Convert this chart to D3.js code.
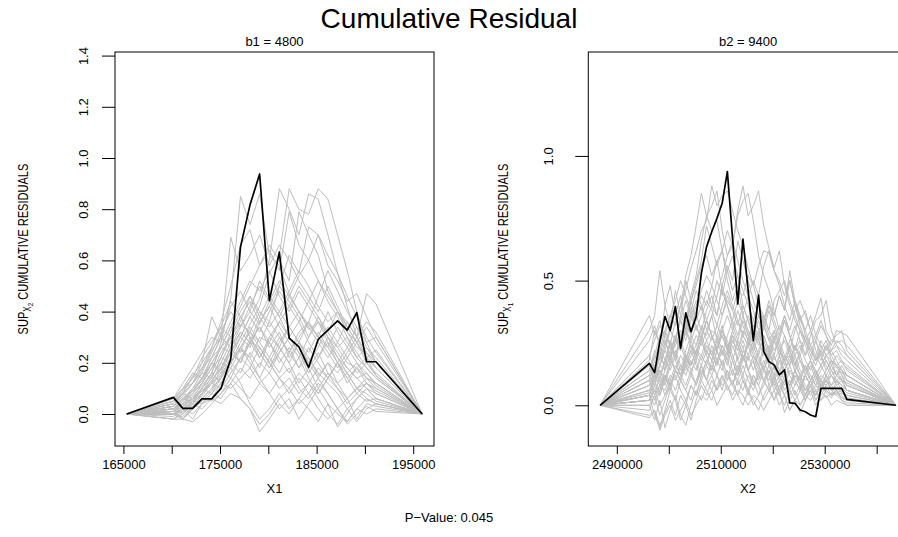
<!DOCTYPE html>
<html>
<head>
<meta charset="utf-8">
<script src="https://cdn.jsdelivr.net/npm/d3@7/dist/d3.min.js"></script>
<style>
  body { margin: 0; background: #fff; }
  svg { display: block; font-family: "Liberation Sans", Arial, Helvetica, sans-serif; }
</style>
</head>
<body>
<div id="chart"></div>
<script>
// ---- data ----
const x1Values = [165350, 170170, 171150, 172170, 173130, 174140, 175100, 176110, 177120, 178100, 179100,
  180110, 181140, 182160, 183170, 184170, 185170, 186170, 187170, 188170, 189160, 190170, 191150, 195930];

const observed1 = [0, 0.065, 0.022, 0.022, 0.059, 0.059, 0.1, 0.215, 0.653, 0.816, 0.9375,
  0.443, 0.632, 0.296, 0.262, 0.182, 0.292, 0.328, 0.364, 0.328, 0.396, 0.204, 0.204, 0];

const simulated1 = [
  [0, 0.03,0.06,0.05,0.10,0.16,0.28,0.45,0.85,0.74,0.86, 0.62,0.58,0.47,0.40,0.33,0.36,0.28,0.22,0.18,0.14, 0.10,0.06, 0],
  [0, 0.00,0.02,0.04,0.08,0.12,0.15,0.22,0.30,0.38,0.45, 0.60,0.88,0.80,0.70,0.86,0.84,0.70,0.55,0.42,0.30, 0.22,0.15, 0],
  [0, 0.01,-0.02,0.03,0.06,0.10,0.14,0.20,0.28,0.35,0.42, 0.55,0.62,0.88,0.80,0.78,0.88,0.84,0.70,0.56,0.40, 0.28,0.20, 0],
  [0, 0.05,0.10,0.12,0.20,0.26,0.36,0.50,0.66,0.72,0.58, 0.66,0.60,0.52,0.79,0.70,0.62,0.48,0.40,0.32,0.28, 0.22,0.18, 0],
  [0, -0.02,-0.02,0.02,0.08,0.15,0.20,0.28,0.35,0.32,0.40, 0.36,0.50,0.62,0.55,0.73,0.70,0.58,0.52,0.44,0.47, 0.38,0.30, 0],
  [0, 0.04,0.08,0.15,0.20,0.38,0.30,0.42,0.48,0.40,0.52, 0.45,0.38,0.46,0.40,0.35,0.30,0.26,0.20,0.16,0.10, 0.08,0.05, 0],
  [0, 0.00,0.02,-0.02,0.04,0.06,0.12,0.18,0.25,0.22,0.30, 0.28,0.36,0.42,0.50,0.44,0.52,0.46,0.40,0.36,0.30, 0.47,0.43, 0],
  [0, 0.02,0.06,0.10,0.14,0.20,0.26,0.30,0.38,0.30,0.22, 0.28,0.20,0.26,0.18,0.22,0.15,0.20,0.12,0.16,0.10, 0.12,0.08, 0],
  [0, -0.02,0.00,0.04,0.02,0.06,0.04,0.08,0.06,0.02,-0.07, -0.02,0.04,0.00,0.06,0.02,-0.03,0.04,0.00,-0.03,0.02, 0.00,0.02, 0],
  [0, 0.01,0.03,0.06,0.10,0.08,0.14,0.20,0.16,0.24,0.18, 0.30,0.26,0.34,0.28,0.24,0.32,0.26,0.34,0.28,0.22, 0.26,0.20, 0],
  [0, 0.03,0.08,0.12,0.18,0.22,0.30,0.26,0.34,0.40,0.35, 0.44,0.38,0.30,0.36,0.28,0.22,0.30,0.24,0.18,0.14, 0.16,0.12, 0],
  [0, 0.00,-0.01,0.03,0.07,0.12,0.10,0.16,0.22,0.28,0.26, 0.20,0.14,0.18,0.10,0.06,0.12,0.08,0.02,0.06,-0.02, 0.04,0.03, 0],
  [0, 0.06,0.12,0.18,0.24,0.30,0.28,0.36,0.44,0.52,0.48, 0.56,0.46,0.40,0.48,0.42,0.36,0.32,0.26,0.30,0.24, 0.18,0.14, 0],
  [0, 0.02,0.04,0.02,0.06,0.10,0.18,0.26,0.20,0.28,0.34, 0.26,0.32,0.22,0.28,0.20,0.26,0.34,0.28,0.36,0.30, 0.24,0.18, 0],
  [0, 0.00,0.02,0.05,0.04,0.08,0.12,0.10,0.14,0.18,0.12, 0.16,0.10,0.14,0.08,0.12,0.18,0.14,0.10,0.06,0.10, 0.06,0.04, 0],
  [0, 0.04,0.08,0.06,0.12,0.20,0.16,0.24,0.30,0.26,0.36, 0.42,0.34,0.28,0.22,0.30,0.38,0.32,0.40,0.34,0.28, 0.22,0.25, 0],
  [0, 0.01,0.05,0.10,0.16,0.14,0.22,0.32,0.40,0.46,0.38, 0.32,0.26,0.20,0.28,0.22,0.16,0.12,0.08,0.02,-0.03, 0.02,0.04, 0],
  [0, -0.01,0.02,0.00,0.04,0.08,0.06,0.12,0.18,0.14,0.20, 0.16,0.24,0.30,0.24,0.18,0.10,0.04,-0.05,0.00,0.06, 0.10,0.08, 0],
  [0, 0.03,0.07,0.12,0.16,0.24,0.32,0.40,0.34,0.42,0.50, 0.44,0.52,0.46,0.54,0.60,0.52,0.44,0.38,0.30,0.22, 0.18,0.14, 0],
  [0, 0.02,0.04,0.08,0.12,0.18,0.22,0.20,0.26,0.32,0.28, 0.36,0.30,0.24,0.32,0.36,0.30,0.40,0.32,0.26,0.34, 0.28,0.30, 0],
  [0, 0.00,0.01,0.03,0.06,0.05,0.08,0.14,0.10,0.06,0.12, 0.08,0.14,0.10,0.16,0.12,0.08,0.14,0.20,0.14,0.08, 0.12,0.10, 0],
  [0, 0.05,0.10,0.16,0.14,0.22,0.26,0.34,0.30,0.38,0.32, 0.40,0.48,0.42,0.36,0.44,0.38,0.30,0.26,0.20,0.18, 0.14,0.10, 0],
  [0, 0.01,0.03,0.07,0.11,0.16,0.24,0.30,0.36,0.46,0.40, 0.34,0.40,0.34,0.28,0.36,0.46,0.56,0.48,0.40,0.34, 0.26,0.22, 0],
  [0, 0.02,-0.02,0.02,0.05,0.09,0.15,0.20,0.26,0.22,0.14, 0.08,0.02,0.06,-0.02,0.04,0.10,0.16,0.12,0.06,0.10, 0.14,0.12, 0],
  [0, 0.03,0.06,0.09,0.13,0.20,0.17,0.26,0.32,0.28,0.22, 0.30,0.36,0.30,0.24,0.16,0.22,0.28,0.20,0.14,0.18, 0.12,0.09, 0],
  [0, 0.00,0.03,0.06,0.09,0.13,0.18,0.24,0.20,0.30,0.24, 0.18,0.24,0.30,0.26,0.20,0.14,0.20,0.16,0.22,0.28, 0.34,0.28, 0],
  [0, 0.02,0.05,0.09,0.14,0.22,0.30,0.69,0.56,0.62,0.70, 0.58,0.66,0.60,0.52,0.46,0.40,0.50,0.42,0.34,0.28, 0.20,0.16, 0],
  [0, 0.01,0.04,0.08,0.12,0.18,0.26,0.34,0.42,0.50,0.58, 0.64,0.56,0.79,0.66,0.60,0.70,0.62,0.55,0.46,0.38, 0.30,0.24, 0],
  [0, 0.00,-0.02,-0.03,0.00,0.04,0.08,0.12,0.06,0.02,-0.04, 0.00,0.06,0.10,0.04,0.08,0.02,-0.02,0.02,-0.04,0.00, 0.03,0.01, 0],
  [0, 0.06,0.10,0.14,0.22,0.28,0.34,0.44,0.38,0.30,0.24, 0.18,0.26,0.20,0.12,0.18,0.24,0.16,0.10,0.04,0.08, 0.05,0.06, 0],
  [0, 0.02,0.06,0.04,0.10,0.14,0.22,0.30,0.24,0.34,0.28, 0.22,0.16,0.24,0.30,0.36,0.30,0.24,0.18,0.24,0.30, 0.36,0.32, 0],
  [0, -0.02,0.01,0.05,0.08,0.12,0.20,0.18,0.12,0.04,-0.02, 0.02,0.08,0.02,0.06,0.12,0.06,0.00,-0.04,0.02,0.06, 0.10,0.06, 0],
  [0, 0.04,0.09,0.14,0.18,0.26,0.34,0.30,0.38,0.44,0.36, 0.42,0.50,0.44,0.38,0.30,0.36,0.30,0.22,0.16,0.20, 0.16,0.11, 0],
  [0, 0.01,0.04,0.06,0.10,0.16,0.12,0.20,0.26,0.32,0.26, 0.20,0.28,0.34,0.40,0.34,0.28,0.22,0.28,0.22,0.16, 0.20,0.15, 0],
  [0, 0.03,0.00,0.04,0.08,0.13,0.18,0.14,0.22,0.18,0.26, 0.20,0.14,0.08,0.14,0.08,0.14,0.08,0.02,-0.03,0.02, 0.06,0.04, 0],
  [0, 0.02,0.05,0.08,0.14,0.20,0.26,0.24,0.32,0.28,0.38, 0.46,0.40,0.48,0.56,0.50,0.42,0.36,0.40,0.32,0.26, 0.24,0.20, 0],
  [0, 0.00,0.02,0.06,0.09,0.12,0.16,0.20,0.26,0.20,0.14, 0.22,0.30,0.24,0.18,0.26,0.20,0.14,0.20,0.26,0.20, 0.14,0.12, 0],
  [0, 0.05,0.08,0.12,0.17,0.25,0.30,0.26,0.20,0.28,0.34, 0.28,0.22,0.16,0.22,0.14,0.08,0.14,0.20,0.12,0.18, 0.22,0.18, 0]
];

const x2Values = [2486790,
  2496270, 2497270, 2498270, 2499270, 2500270, 2501270, 2502270, 2503270, 2504270, 2505270,
  2506270, 2507270, 2508270, 2509270, 2510270, 2511270, 2512270, 2513270, 2514270, 2515270,
  2516270, 2517270, 2518270, 2519270, 2520270, 2521270, 2522270, 2523270, 2524270, 2525270,
  2526270, 2527270, 2528270, 2529270, 2530270, 2531270, 2532270, 2533270, 2534270,
  2543710];

const observed2 = [0,
  0.168,0.131,0.255,0.356,0.300,0.396,0.229,0.371,0.295,0.356,
  0.53,0.636,0.696,0.75,0.81,0.937,0.67,0.406,0.666,0.46,
  0.259,0.442,0.215,0.175,0.162,0.122,0.142,0.01,0.008,-0.019,
  -0.026,-0.039,-0.046,0.068,0.068,0.068,0.068,0.068,0.024,
  0];

const simulated2 = [
  [0, 0.10,0.18,0.26,0.30,0.36,0.32,0.40,0.46,0.55,0.62, 0.70,0.74,0.88,0.80,0.84,0.86,0.78,0.70,0.64,0.55, 0.48,0.40,0.36,0.30,0.26,0.22,0.18,0.20,0.16,0.12, 0.14,0.10,0.12,0.08,0.10,0.06,0.08,0.05,0.04, 0],
  [0, 0.05,0.12,0.20,0.28,0.24,0.34,0.40,0.52,0.60,0.72, 0.85,0.76,0.80,0.86,0.70,0.60,0.66,0.58,0.50,0.44, 0.38,0.30,0.34,0.28,0.22,0.26,0.20,0.16,0.20,0.14, 0.10,0.12,0.08,0.06,0.10,0.12,0.08,0.10,0.06, 0],
  [0, 0.00,0.04,0.08,0.06,0.12,0.10,0.16,0.14,0.20,0.24, 0.30,0.28,0.36,0.44,0.52,0.60,0.64,0.78,0.88,0.76, 0.80,0.86,0.72,0.63,0.55,0.62,0.48,0.40,0.34,0.30, 0.26,0.22,0.18,0.20,0.16,0.12,0.14,0.10,0.08, 0],
  [0, 0.02,0.06,0.04,0.10,0.08,0.14,0.12,0.18,0.16,0.22, 0.20,0.26,0.30,0.28,0.36,0.42,0.38,0.46,0.44,0.52, 0.48,0.56,0.62,0.61,0.54,0.50,0.44,0.50,0.40,0.34, 0.30,0.36,0.28,0.24,0.20,0.22,0.18,0.14,0.10, 0],
  [0, 0.30,0.36,0.54,0.40,0.48,0.36,0.44,0.30,0.38,0.32, 0.26,0.34,0.28,0.22,0.30,0.24,0.18,0.26,0.20,0.14, 0.20,0.16,0.10,0.14,0.08,0.12,0.06,0.10,0.04,0.08, 0.02,0.06,0.04,0.08,0.05,0.03,0.06,0.04,0.02, 0],
  [0, -0.04,-0.02,-0.10,-0.04,0.00,-0.06,-0.02,0.02,-0.04,0.00, 0.04,0.02,0.06,0.00,0.04,0.08,0.02,0.06,0.04,0.00, 0.04,0.02,-0.02,0.02,0.06,0.00,0.04,-0.02,0.02,0.00, 0.04,0.02,0.06,0.02,0.04,0.00,0.02,0.01,0.00, 0],
  [0, 0.08,0.14,0.10,0.18,0.24,0.20,0.28,0.34,0.30,0.38, 0.44,0.40,0.48,0.42,0.36,0.44,0.38,0.32,0.40,0.34, 0.28,0.34,0.26,0.20,0.28,0.22,0.16,0.24,0.18,0.12, 0.16,0.10,0.14,0.08,0.12,0.16,0.12,0.14,0.10, 0],
  [0, 0.02,0.08,0.06,0.12,0.10,0.16,0.12,0.20,0.16,0.22, 0.18,0.24,0.20,0.16,0.22,0.18,0.26,0.22,0.28,0.24, 0.30,0.36,0.32,0.40,0.36,0.44,0.38,0.54,0.42,0.34, 0.38,0.30,0.36,0.43,0.30,0.26,0.28,0.30,0.22, 0],
  [0, 0.16,0.10,0.22,0.14,0.26,0.18,0.12,0.20,0.14,0.08, 0.16,0.10,0.18,0.12,0.06,0.14,0.08,0.16,0.10,0.04, 0.12,0.08,0.14,0.10,0.16,0.12,0.08,0.14,0.10,0.06, 0.12,0.08,0.10,0.06,0.12,0.08,0.10,0.06,0.08, 0],
  [0, 0.04,0.10,0.16,0.22,0.18,0.26,0.34,0.30,0.42,0.50, 0.58,0.72,0.64,0.56,0.62,0.50,0.42,0.48,0.36,0.30, 0.24,0.30,0.22,0.16,0.20,0.14,0.18,0.12,0.08,0.12, 0.06,0.10,0.04,0.08,0.06,0.04,0.10,0.08,0.06, 0],
  [0, 0.00,-0.06,0.02,-0.09,-0.02,0.04,-0.04,-0.08,0.00,0.06, 0.02,0.08,0.12,0.06,0.10,0.14,0.08,0.04,0.10,0.06, 0.12,0.08,0.02,0.06,0.10,0.04,0.00,0.06,0.02,-0.03, 0.02,0.06,0.00,0.04,0.08,0.04,0.06,0.02,0.00, 0],
  [0, 0.12,0.20,0.28,0.24,0.32,0.38,0.34,0.42,0.36,0.30, 0.36,0.42,0.38,0.32,0.40,0.46,0.40,0.34,0.28,0.36, 0.30,0.24,0.32,0.26,0.20,0.28,0.34,0.28,0.22,0.26, 0.20,0.24,0.18,0.22,0.26,0.20,0.16,0.18,0.14, 0],
  [0, 0.06,0.02,0.08,0.12,0.06,0.14,0.10,0.18,0.24,0.20, 0.28,0.34,0.40,0.36,0.48,0.56,0.50,0.66,0.58,0.50, 0.42,0.36,0.30,0.38,0.32,0.26,0.34,0.28,0.22,0.30, 0.24,0.18,0.26,0.20,0.14,0.18,0.12,0.16,0.12, 0],
  [0, 0.06,0.10,0.04,0.12,0.08,0.14,0.10,0.06,0.12,0.08, 0.14,0.10,0.16,0.12,0.08,0.10,0.14,0.10,0.06,0.12, 0.08,0.12,0.10,0.06,0.10,0.14,0.10,0.08,0.12,0.10, 0.06,0.10,0.12,0.08,0.10,0.12,0.09,0.11,0.08, 0],
  [0, 0.10,0.04,0.12,0.08,0.16,0.22,0.16,0.12,0.18,0.14, 0.20,0.16,0.24,0.18,0.14,0.20,0.26,0.22,0.30,0.26, 0.32,0.28,0.36,0.30,0.42,0.46,0.50,0.42,0.36,0.30, 0.26,0.20,0.16,0.22,0.18,0.14,0.16,0.12,0.10, 0],
  [0, 0.20,0.26,0.32,0.28,0.36,0.42,0.50,0.44,0.38,0.46, 0.40,0.34,0.28,0.22,0.16,0.22,0.14,0.08,0.12,0.06, 0.00,0.04,0.10,0.06,0.02,0.08,0.04,-0.02,0.02,0.06, 0.02,0.08,0.04,0.10,0.06,0.04,0.06,0.03,0.02, 0],
  [0, 0.02,0.06,0.00,0.04,0.10,0.06,0.12,0.08,0.14,0.18, 0.12,0.18,0.22,0.16,0.24,0.20,0.28,0.24,0.18,0.26, 0.22,0.28,0.24,0.18,0.26,0.32,0.28,0.22,0.30,0.36, 0.30,0.24,0.28,0.34,0.28,0.24,0.30,0.29,0.28, 0],
  [0, 0.08,0.12,0.16,0.14,0.20,0.24,0.30,0.26,0.34,0.40, 0.46,0.52,0.48,0.58,0.62,0.70,0.64,0.76,0.82,0.85, 0.74,0.60,0.52,0.46,0.38,0.30,0.36,0.28,0.20,0.24, 0.18,0.14,0.20,0.16,0.12,0.08,0.12,0.10,0.06, 0],
  [0, 0.14,0.22,0.18,0.26,0.20,0.28,0.24,0.18,0.26,0.32, 0.26,0.20,0.28,0.22,0.30,0.26,0.20,0.14,0.22,0.18, 0.24,0.18,0.14,0.20,0.16,0.12,0.20,0.16,0.24,0.18, 0.14,0.18,0.12,0.16,0.20,0.16,0.20,0.17,0.15, 0],
  [0, -0.02,0.04,-0.04,0.02,0.08,0.02,0.10,0.06,0.02,0.10, 0.16,0.10,0.06,0.12,0.18,0.12,0.08,0.14,0.20,0.14, 0.10,0.04,0.08,0.14,0.08,0.04,0.10,0.16,0.10,0.06, 0.12,0.08,0.02,0.06,0.10,0.06,0.04,0.05,0.03, 0],
  [0, 0.12,0.08,0.16,0.22,0.30,0.26,0.36,0.32,0.42,0.48, 0.56,0.60,0.52,0.58,0.46,0.40,0.34,0.42,0.36,0.28, 0.32,0.26,0.20,0.24,0.18,0.22,0.26,0.20,0.14,0.18, 0.12,0.16,0.10,0.14,0.18,0.14,0.10,0.12,0.08, 0],
  [0, 0.04,0.10,0.14,0.10,0.18,0.14,0.20,0.16,0.22,0.28, 0.24,0.30,0.26,0.32,0.28,0.22,0.30,0.34,0.28,0.24, 0.30,0.26,0.34,0.40,0.34,0.28,0.36,0.30,0.38,0.42, 0.36,0.30,0.26,0.32,0.28,0.22,0.26,0.24,0.20, 0],
  [0, 0.36,0.28,0.34,0.26,0.20,0.28,0.22,0.30,0.24,0.18, 0.26,0.20,0.14,0.22,0.16,0.10,0.18,0.12,0.20,0.14, 0.08,0.14,0.10,0.16,0.12,0.06,0.12,0.08,0.14,0.10, 0.06,0.10,0.14,0.10,0.08,0.12,0.10,0.08,0.06, 0],
  [0, -0.05,-0.02,-0.08,-0.03,0.02,-0.04,0.04,0.00,-0.06,0.02, 0.08,0.04,0.10,0.06,0.12,0.08,0.04,0.10,0.16,0.10, 0.06,0.12,0.18,0.12,0.06,0.10,0.04,0.08,0.14,0.10, 0.16,0.12,0.08,0.12,0.10,0.14,0.12,0.10,0.09, 0],
  [0, 0.14,0.20,0.16,0.24,0.30,0.26,0.34,0.28,0.36,0.42, 0.38,0.46,0.40,0.50,0.44,0.54,0.60,0.52,0.46,0.40, 0.34,0.40,0.32,0.26,0.30,0.24,0.18,0.22,0.16,0.20, 0.14,0.18,0.12,0.16,0.20,0.18,0.16,0.14,0.12, 0],
  [0, 0.06,0.12,0.08,0.14,0.20,0.14,0.10,0.16,0.22,0.16, 0.10,0.16,0.12,0.18,0.24,0.18,0.12,0.20,0.26,0.20, 0.14,0.22,0.28,0.22,0.30,0.24,0.18,0.26,0.32,0.26, 0.20,0.28,0.34,0.36,0.42,0.30,0.24,0.20,0.18, 0],
  [0, 0.18,0.30,0.24,0.40,0.32,0.46,0.36,0.50,0.42,0.34, 0.40,0.30,0.36,0.26,0.32,0.22,0.28,0.18,0.24,0.14, 0.18,0.10,0.16,0.08,0.12,0.06,0.10,0.04,0.08,0.12, 0.08,0.04,0.08,0.06,0.10,0.07,0.05,0.06,0.04, 0],
  [0, 0.10,0.16,0.12,0.18,0.14,0.20,0.26,0.20,0.16,0.22, 0.28,0.22,0.18,0.24,0.30,0.24,0.18,0.12,0.18,0.24, 0.18,0.12,0.16,0.22,0.16,0.10,0.14,0.20,0.14,0.08, 0.12,0.18,0.14,0.10,0.14,0.18,0.15,0.13,0.12, 0],
  [0, 0.04,-0.04,-0.09,-0.02,0.06,0.02,-0.06,0.00,0.08,0.04, 0.12,0.18,0.14,0.22,0.28,0.22,0.30,0.24,0.18,0.26, 0.20,0.14,0.22,0.16,0.10,0.18,0.12,0.06,0.12,0.08, 0.04,0.10,0.06,0.02,0.06,0.04,0.05,0.03,0.02, 0],
  [0, 0.08,0.14,0.20,0.16,0.22,0.28,0.22,0.30,0.26,0.20, 0.28,0.34,0.28,0.22,0.30,0.36,0.30,0.38,0.32,0.26, 0.34,0.40,0.34,0.42,0.36,0.44,0.38,0.50,0.40,0.32, 0.26,0.30,0.22,0.18,0.24,0.20,0.22,0.18,0.16, 0],
  [0, 0.02,0.08,0.14,0.10,0.18,0.26,0.22,0.34,0.44,0.52, 0.66,0.76,0.70,0.74,0.62,0.54,0.46,0.52,0.40,0.34, 0.26,0.20,0.28,0.22,0.14,0.20,0.12,0.08,0.14,0.10, 0.04,0.08,0.12,0.06,0.10,0.08,0.06,0.07,0.05, 0],
  [0, 0.02,0.06,0.10,0.04,0.08,0.12,0.06,0.02,0.08,0.04, 0.10,0.06,0.02,0.08,0.12,0.06,0.10,0.04,0.00,0.06, 0.02,-0.02,0.04,0.08,0.02,0.06,-0.03,0.02,0.06,0.00, 0.04,0.08,0.02,0.06,0.03,0.05,0.04,0.02,0.01, 0],
  [0, 0.20,0.14,0.22,0.30,0.24,0.18,0.26,0.34,0.28,0.36, 0.30,0.38,0.44,0.36,0.48,0.40,0.32,0.26,0.34,0.28, 0.22,0.16,0.24,0.18,0.12,0.20,0.14,0.18,0.24,0.20, 0.26,0.22,0.18,0.24,0.20,0.22,0.24,0.22,0.20, 0],
  [0, 0.04,0.00,0.06,0.12,0.08,0.14,0.10,0.16,0.12,0.20, 0.16,0.22,0.18,0.26,0.20,0.28,0.34,0.28,0.36,0.44, 0.50,0.44,0.56,0.62,0.54,0.48,0.40,0.34,0.42,0.36, 0.28,0.22,0.26,0.20,0.24,0.18,0.16,0.14,0.12, 0],
  [0, 0.26,0.32,0.24,0.18,0.26,0.20,0.14,0.22,0.28,0.24, 0.32,0.26,0.20,0.28,0.22,0.16,0.24,0.18,0.12,0.20, 0.26,0.20,0.14,0.20,0.26,0.20,0.28,0.22,0.16,0.22, 0.28,0.24,0.20,0.26,0.22,0.26,0.25,0.26,0.24, 0]
];

const xTicks1 = [165000, 170000, 175000, 180000, 185000, 190000, 195000];
const xTickLabels1 = ['165000', '', '175000', '', '185000', '', '195000'];
const yTicks1 = [0, 0.2, 0.4, 0.6, 0.8, 1.0, 1.2, 1.4];
const yTickLabels1 = ['0.0', '0.2', '0.4', '0.6', '0.8', '1.0', '1.2', '1.4'];

const xTicks2 = [2490000, 2500000, 2510000, 2520000, 2530000, 2540000];
const xTickLabels2 = ['2490000', '', '2510000', '', '2530000', ''];
const yTicks2 = [0, 0.5, 1.0];
const yTickLabels2 = ['0.0', '0.5', '1.0'];

// ---- layout ----
const W = 898, H = 537;
const plotTop = 52, plotBottom = 446;

const svg = d3.select('#chart').append('svg')
  .attr('width', W)
  .attr('height', H);

svg.append('text')
  .attr('x', 449).attr('y', 28)
  .attr('text-anchor', 'middle')
  .attr('font-size', 28)
  .text('Cumulative Residual');

svg.append('text')
  .attr('x', 449).attr('y', 522)
  .attr('text-anchor', 'middle')
  .attr('font-size', 13)
  .text('P\u2212Value: 0.045');

const panels = [
  {
    xs: x1Values, observed: observed1, simulated: simulated1,
    left: 115, right: 434, xDomain: [164127, 197153], yDomain: [-0.125, 1.414],
    xTicks: xTicks1, xTickLabels: xTickLabels1, yTicks: yTicks1, yTickLabels: yTickLabels1,
    title: 'b1 =  4800', xLabel: 'X1', sub: '2', yLabelX: 28, yTickOffset: -27
  },
  {
    xs: x2Values, observed: observed2, simulated: simulated2,
    left: 588.3, right: 907.8, xDomain: [2484513, 2545987], yDomain: [-0.1633, 1.4168],
    xTicks: xTicks2, xTickLabels: xTickLabels2, yTicks: yTicks2, yTickLabels: yTickLabels2,
    title: 'b2 =  9400', xLabel: 'X2', sub: '1', yLabelX: 508, yTickOffset: -35
  }
];

const drawPanel = (p) => {
  const x = d3.scaleLinear().domain(p.xDomain).range([p.left, p.right]);
  const y = d3.scaleLinear().domain(p.yDomain).range([plotBottom, plotTop]);
  const g = svg.append('g');

  const line = d3.line()
    .x((d, i) => x(p.xs[i]))
    .y((d) => y(d));

  // simulated paths first, observed on top
  g.selectAll('path.sim')
    .data(p.simulated)
    .join('path')
    .attr('class', 'sim')
    .attr('d', line)
    .attr('fill', 'none')
    .attr('stroke', '#bebebe')
    .attr('stroke-width', 1);

  g.append('path')
    .datum(p.observed)
    .attr('d', line)
    .attr('fill', 'none')
    .attr('stroke', '#000')
    .attr('stroke-width', 1.7)
    .attr('stroke-linejoin', 'round');

  g.append('rect')
    .attr('x', p.left).attr('y', plotTop)
    .attr('width', p.right - p.left).attr('height', plotBottom - plotTop)
    .attr('fill', 'none').attr('stroke', '#000').attr('stroke-width', 1);

  // x axis
  const xAxis = g.append('g')
    .attr('transform', `translate(0,${plotBottom})`)
    .call(d3.axisBottom(x).tickValues(p.xTicks).tickSize(8).tickPadding(6)
      .tickFormat((d, i) => p.xTickLabels[i]));
  xAxis.select('.domain').remove();
  xAxis.selectAll('text').attr('font-size', 13).attr('fill', '#000')
    .attr('font-family', '"Liberation Sans", Arial, sans-serif');

  // y axis, labels turned to read upward
  const yAxis = g.append('g')
    .attr('transform', `translate(${p.left},0)`)
    .call(d3.axisLeft(y).tickValues(p.yTicks).tickSize(13)
      .tickFormat((d, i) => p.yTickLabels[i]));
  yAxis.select('.domain').remove();
  yAxis.selectAll('text')
    .attr('x', null).attr('dy', null)
    .attr('transform', `translate(${p.yTickOffset},0) rotate(-90)`)
    .attr('text-anchor', 'middle')
    .attr('font-size', 13).attr('fill', '#000')
    .attr('font-family', '"Liberation Sans", Arial, sans-serif');

  const cx = (p.left + p.right) / 2;
  svg.append('text')
    .attr('x', cx).attr('y', 46)
    .attr('text-anchor', 'middle')
    .attr('font-size', 13)
    .text(p.title);

  svg.append('text')
    .attr('x', cx).attr('y', 493)
    .attr('text-anchor', 'middle')
    .attr('font-size', 13)
    .text(p.xLabel);

  // narrow-looking axis title: squeeze along the reading direction
  const yl = svg.append('text')
    .attr('transform', `translate(${p.yLabelX},${(plotTop + plotBottom) / 2}) rotate(-90) scale(0.79,1)`)
    .attr('text-anchor', 'middle')
    .attr('font-size', 14);
  yl.append('tspan').text('SUP');
  yl.append('tspan').attr('font-size', 10).attr('dy', 3).text('X');
  yl.append('tspan').attr('font-size', 8).attr('dy', 2).text(p.sub);
  yl.append('tspan').attr('dy', -5).text('  CUMULATIVE RESIDUALS');
};

panels.forEach(drawPanel);
</script>
</body>
</html>
